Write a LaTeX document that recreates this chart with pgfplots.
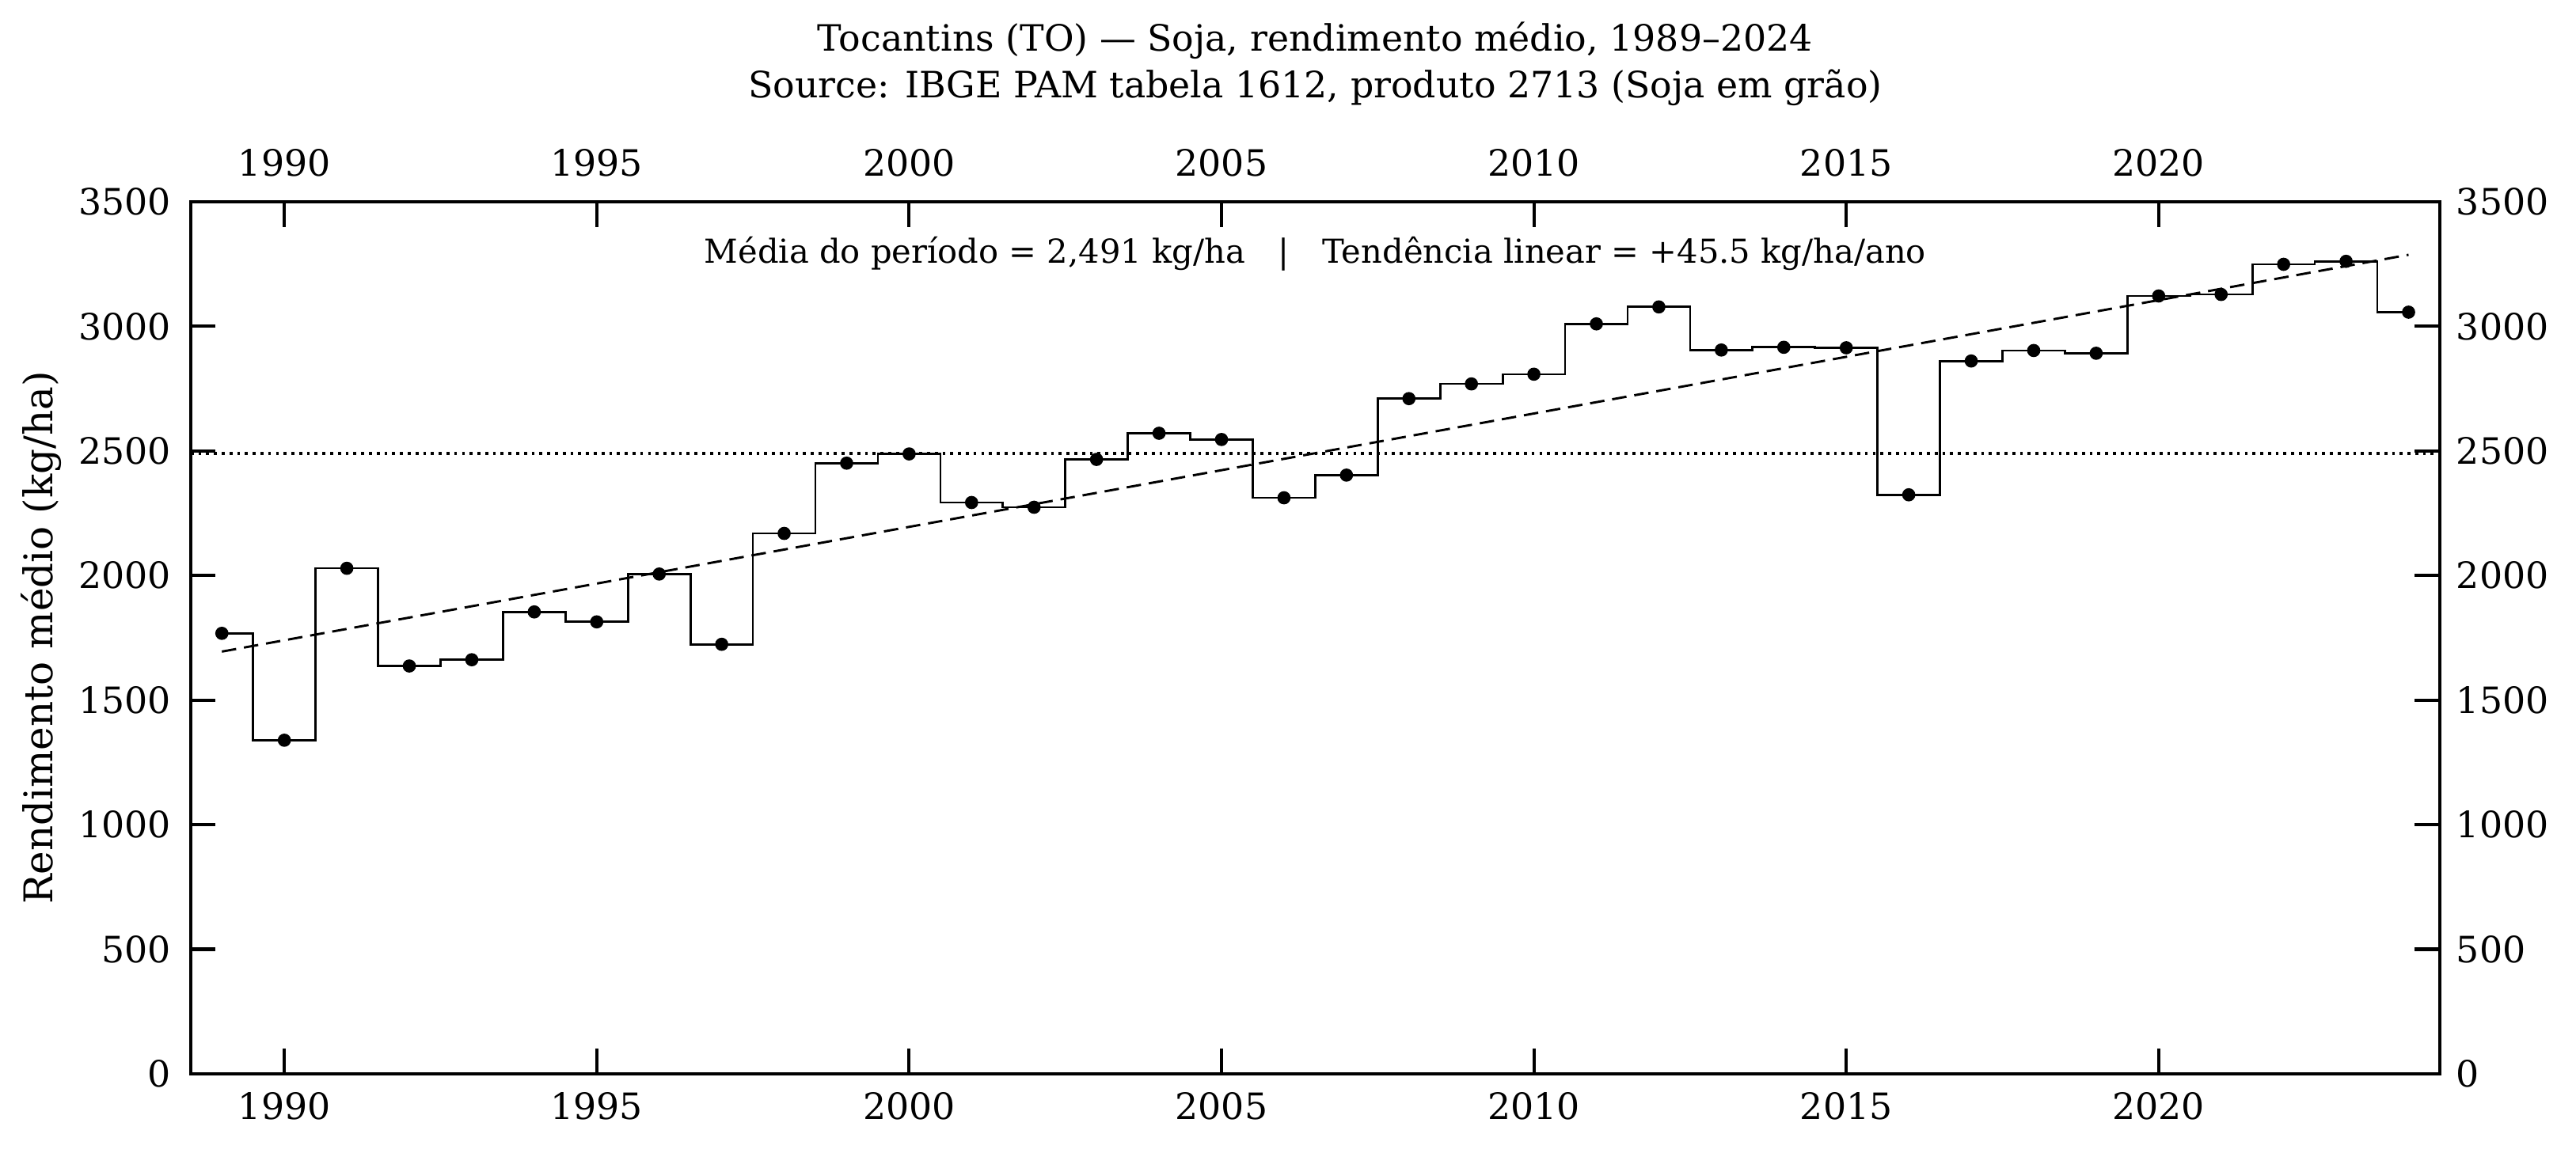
\documentclass[border=0pt]{standalone}
\usepackage{fontspec}
\setmainfont{DejaVu Serif}
\usepackage{pgfplots}
\usepackage{pgfplotstable}
\pgfplotsset{compat=1.18}

% Soja em grao, Tocantins: rendimento medio (kg/ha) por ano
\pgfplotstableread{
year yield
1989 1768
1990 1339
1991 2029
1992 1637
1993 1662
1994 1854
1995 1814
1996 2006
1997 1724
1998 2169
1999 2451
2000 2488
2001 2293
2002 2274
2003 2466
2004 2571
2005 2546
2006 2312
2007 2403
2008 2710
2009 2769
2010 2808
2011 3010
2012 3078
2013 2905
2014 2916
2015 2914
2016 2324
2017 2861
2018 2903
2019 2892
2020 3122
2021 3128
2022 3249
2023 3261
2024 3057
}\yieldtable

\pgfplotsset{
  frame/.style={
    scale only axis, width=681.9pt, height=264.5pt,
    at={(0,0)}, anchor=south west,
    xmin=1988.5, xmax=2024.5, ymin=0, ymax=3500,
    xtick={1990,1995,...,2020}, ytick={0,500,...,3500},
    minor tick num=0,
    tick align=inside, major tick length=7.6pt,
    every tick/.style={black, line width=1pt},
    axis line style={line width=1pt},
    /pgf/number format/1000 sep={},
    /pgf/number format/assume math mode=true,
    tick label style={font=\fontsize{11}{13}\selectfont, black},
  }
}

\begin{document}
\begin{tikzpicture}
\path[use as bounding box] (-57.8pt,-23.8pt) rectangle (723.2pt,325.7pt);

\begin{axis}[frame, name=main,
  xticklabel pos=lower, yticklabel pos=left,
  xtick pos=both, ytick pos=both,
  xticklabel style={yshift=-2pt},
  yticklabel style={xshift=-2.5pt},
  clip=false]
  % period mean
  \addplot[black, line width=0.9pt, dash pattern=on 0.9pt off 1.45pt]
    coordinates {(1988.5,2491) (2024.5,2491)};
  % yearly yield as mid steps with markers
  \addplot[black, line width=0.65pt, const plot mark mid]
    table[x=year, y=yield] {\yieldtable};
  \addplot[only marks, mark=*, mark size=1.8pt, black]
    table[x=year, y=yield] {\yieldtable};
  % linear trend, +45.5 kg/ha per year
  \addplot[black, line width=0.7pt, dash pattern=on 4.4pt off 2.4pt]
    coordinates {(1989,1694.75) (2024,3287.25)};
\end{axis}

\begin{axis}[frame,
  xticklabel pos=upper, yticklabel pos=right,
  xtick pos=both, ytick pos=both,
  xticklabel style={yshift=4pt},
  yticklabel style={xshift=1.5pt}]
\end{axis}

\node[font=\fontsize{11}{13}\selectfont] at ([yshift=49pt]main.north)
  {Tocantins (TO) — Soja, rendimento médio, 1989–2024};
\node[font=\fontsize{11}{13}\selectfont] at ([yshift=34.6pt]main.north)
  {Source: IBGE PAM tabela 1612, produto 2713 (Soja em grão)};
\node[font=\fontsize{10}{12}\selectfont] at ([yshift=-15.8pt]main.north)
  {Média do período = 2,491 kg/ha\hspace{10pt}|\hspace{10pt}Tendência linear = +45.5 kg/ha/ano};
\node[rotate=90, font=\fontsize{12}{14}\selectfont] at ([xshift=-45.3pt]main.west)
  {Rendimento médio (kg/ha)};
\end{tikzpicture}
\end{document}
